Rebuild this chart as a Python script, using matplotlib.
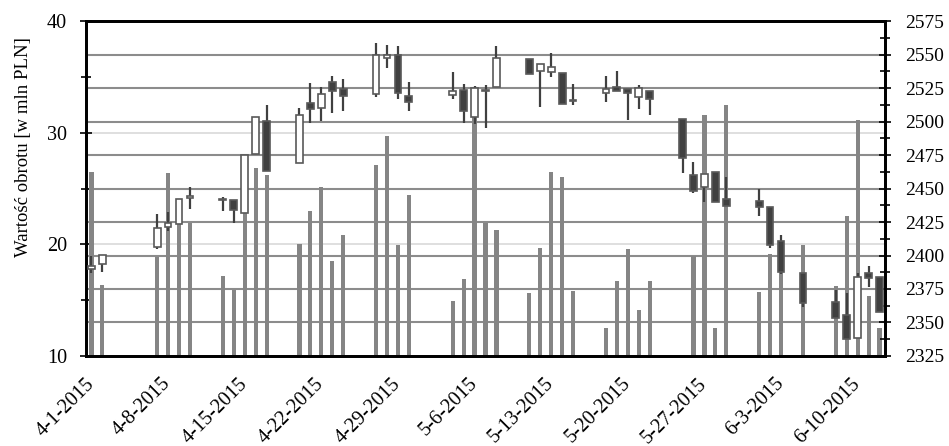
import pandas as pd
import matplotlib
matplotlib.use("Agg")
import matplotlib.pyplot as plt
import matplotlib.dates as mdates
from matplotlib.ticker import MultipleLocator

plt.rcParams['font.family'] = ['Liberation Serif', 'DejaVu Serif']

dates = ["2015-04-01", "2015-04-02", "2015-04-07", "2015-04-08", "2015-04-09", "2015-04-10",
         "2015-04-13", "2015-04-14", "2015-04-15", "2015-04-16", "2015-04-17",
         "2015-04-20", "2015-04-21", "2015-04-22", "2015-04-23", "2015-04-24",
         "2015-04-27", "2015-04-28", "2015-04-29", "2015-04-30",
         "2015-05-04", "2015-05-05", "2015-05-06", "2015-05-07", "2015-05-08",
         "2015-05-11", "2015-05-12", "2015-05-13", "2015-05-14", "2015-05-15",
         "2015-05-18", "2015-05-19", "2015-05-20", "2015-05-21", "2015-05-22",
         "2015-05-25", "2015-05-26", "2015-05-27", "2015-05-28", "2015-05-29",
         "2015-06-01", "2015-06-02", "2015-06-03", "2015-06-05",
         "2015-06-08", "2015-06-09", "2015-06-10", "2015-06-11", "2015-06-12"]

# obrot [mln PLN]
volume = [26.5, 16.4, 18.9, 26.4, 21.8, 21.9,
          17.2, 15.9, 22.8, 26.8, 26.2,
          20.0, 23.0, 25.1, 18.5, 20.8,
          27.1, 29.7, 19.9, 24.4,
          14.9, 16.9, 31.4, 21.9, 21.3,
          15.6, 19.7, 26.5, 26.0, 15.8,
          12.5, 16.7, 19.6, 14.1, 16.7,
          10.1, 19.0, 31.6, 12.5, 32.5,
          15.7, 19.1, 17.5, 19.9,
          16.3, 22.5, 31.1, 15.4, 12.5]

# WIG20 OHLC
open_ = [2390.1, 2393.6, 2406.6, 2421.5, 2423.3, 2443.2,
         2441.2, 2441.4, 2431.9, 2475.7, 2500.4,
         2469.0, 2514.0, 2510.3, 2529.7, 2524.0,
         2520.5, 2547.2, 2549.6, 2519.0,
         2519.8, 2523.5, 2503.1, 2522.6, 2525.5,
         2546.6, 2537.9, 2537.2, 2536.0, 2515.7,
         2521.0, 2526.0, 2524.3, 2518.5, 2522.8,
         2501.6, 2460.1, 2450.9, 2462.5, 2441.9,
         2440.9, 2436.4, 2411.0, 2387.2,
         2365.1, 2355.6, 2338.2, 2387.2, 2384.2]
high = [2399.6, 2400.1, 2431.0, 2432.5, 2441.9, 2450.9,
        2443.9, 2441.4, 2475.2, 2503.6, 2512.1,
        2510.0, 2528.5, 2525.5, 2534.0, 2531.5,
        2558.4, 2557.1, 2556.3, 2529.7,
        2537.2, 2528.0, 2526.5, 2527.2, 2556.3,
        2546.6, 2542.9, 2551.3, 2536.0, 2528.0,
        2534.0, 2537.7, 2524.3, 2527.2, 2522.8,
        2501.6, 2469.5, 2460.8, 2462.5, 2458.4,
        2449.4, 2436.4, 2415.3, 2387.2,
        2374.2, 2371.8, 2386.7, 2392.4, 2384.2]
low = [2387.2, 2387.9, 2404.6, 2418.5, 2423.3, 2434.5,
       2433.0, 2424.0, 2431.9, 2475.7, 2463.3,
       2469.0, 2498.7, 2500.6, 2506.1, 2508.1,
       2518.5, 2539.7, 2516.6, 2508.1,
       2516.8, 2499.1, 2498.1, 2494.9, 2525.5,
       2535.2, 2511.1, 2533.4, 2513.1, 2512.1,
       2514.8, 2523.0, 2501.1, 2509.1, 2504.8,
       2461.8, 2446.4, 2439.7, 2440.1, 2437.2,
       2429.5, 2405.4, 2386.2, 2361.3,
       2353.1, 2337.5, 2338.2, 2376.3, 2358.1]
close = [2392.4, 2400.1, 2420.5, 2424.5, 2441.9, 2443.4,
         2441.4, 2434.0, 2475.2, 2503.6, 2463.3,
         2504.8, 2509.1, 2520.3, 2523.0, 2519.0,
         2549.6, 2549.6, 2521.5, 2514.3,
         2523.0, 2507.8, 2524.8, 2523.0, 2547.2,
         2535.2, 2542.9, 2540.4, 2513.1, 2515.5,
         2524.0, 2523.0, 2521.0, 2524.8, 2516.6,
         2472.5, 2448.4, 2460.8, 2440.1, 2437.2,
         2436.4, 2407.8, 2387.9, 2364.8,
         2353.1, 2337.5, 2383.7, 2383.0, 2358.1]

tick_dates = ["2015-04-01", "2015-04-08", "2015-04-15", "2015-04-22", "2015-04-29", "2015-05-06",
              "2015-05-13", "2015-05-20", "2015-05-27", "2015-06-03", "2015-06-10"]

x = mdates.date2num(pd.to_datetime(dates))
xt = mdates.date2num(pd.to_datetime(tick_dates))
tick_labels = [f"{d.month}-{d.day}-{d.year}" for d in pd.to_datetime(tick_dates)]

fig = plt.figure(figsize=(9.49, 4.46), dpi=100)
ax = fig.add_axes([0.0906, 0.2018, 0.8420, 0.7511])
ax2 = ax.twinx()

# lewa os: obrot
ax.bar(x, [v - 10 for v in volume], bottom=10, width=0.38, color='#858585', zorder=2)
ax.set_ylim(10, 40)
ax.yaxis.set_major_locator(MultipleLocator(10))
ax.yaxis.set_minor_locator(MultipleLocator(5))
ax.grid(axis='y', which='major', color='#d9d9d9', lw=1.2, zorder=0)
ax.set_ylabel("Wartość obrotu [w mln PLN]", fontsize=13.5)
ax.yaxis.set_label_coords(-0.0676, 0.624)
ax.tick_params(axis='y', which='both', direction='inout', labelsize=14.5, width=1.2, pad=9)
ax.tick_params(axis='y', which='major', length=9)
ax.tick_params(axis='y', which='minor', length=7)

# prawa os: swiece
ax2.set_ylim(2325, 2575)
ax2.yaxis.set_major_locator(MultipleLocator(25))
ax2.yaxis.set_minor_locator(MultipleLocator(12.5))
ax2.tick_params(axis='y', which='both', direction='inout', labelsize=14, width=1.2, pad=10)
ax2.tick_params(axis='y', which='major', length=9)
ax2.tick_params(axis='y', which='minor', length=7)
for yv in range(2350, 2575, 25):
    ax.axhline(10 + (yv - 2325) / 250 * 30, color='#8c8c8c', lw=1.5, zorder=1)

w = 0.62
for xi, o, h, l, c in zip(x, open_, high, low, close):
    ax2.vlines(xi, l, h, color='#404040', lw=1.6, zorder=3)
    lo, hi = min(o, c), max(o, c)
    body = max(hi - lo, 0.9)
    fill = 'white' if c >= o else '#404040'
    ax2.bar(xi, body, bottom=lo, width=w, color=fill, edgecolor='#595959', lw=1.2, zorder=4)

ax.set_xlim(x[0] - 0.5, x[-1] + 0.5)
ax.set_xticks(xt)
ax.set_xticklabels(tick_labels, rotation=45, ha='right', va='center',
                   rotation_mode='anchor', fontsize=14.5)
ax.tick_params(axis='x', length=0, pad=18)

for sp in list(ax.spines.values()) + list(ax2.spines.values()):
    sp.set_linewidth(2)

fig.savefig("out.png", dpi=100)
